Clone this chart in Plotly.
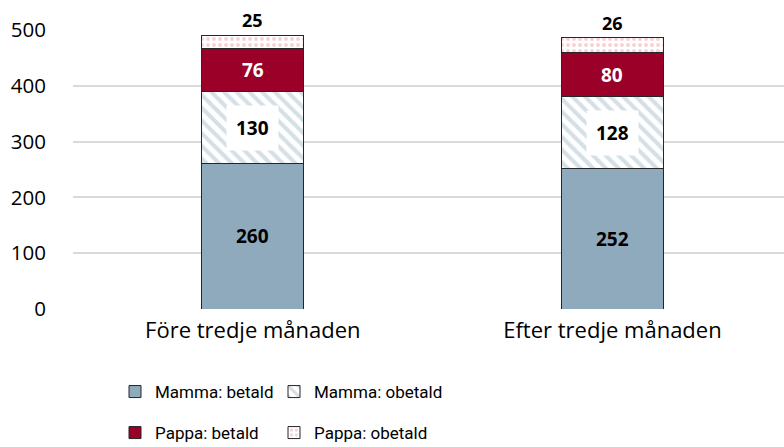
import plotly.graph_objects as go

categories = ["Före tredje månaden", "Efter tredje månaden"]
mamma_betald = [260, 252]
mamma_obetald = [130, 128]
pappa_betald = [76, 80]
pappa_obetald = [25, 26]
y_ticks = [0, 100, 200, 300, 400, 500]

FONT = "'Open Sans', 'Noto Sans', sans-serif"
LFONT = "Roboto, 'Open Sans', sans-serif"
series = [
    ("Mamma: betald", mamma_betald, dict(color="#8FAABC"), "black", False),
    ("Mamma: obetald", mamma_obetald,
     dict(color="white", pattern=dict(shape="\\", fgcolor="#A9BFCD", bgcolor="white", size=9, solidity=0.45)),
     "black", True),
    ("Pappa: betald", pappa_betald, dict(color="#9B0029"), "white", False),
    ("Pappa: obetald", pappa_obetald,
     dict(color="white", pattern=dict(shape=".", fgcolor="#EFA3AB", bgcolor="white", size=6, solidity=0.35)),
     "black", False),
]
legend_ids = ["legend", "legend2", "legend3", "legend4"]

xs = [0, 1]
fig = go.Figure()
annotations = []
base = [0, 0]
for i, (name, vals, marker, tcolor, boxed) in enumerate(series):
    m = dict(marker)
    m["line"] = dict(color="#262626", width=1)
    fig.add_trace(go.Bar(x=xs, y=vals, name=name, marker=m, width=0.284, legend=legend_ids[i],
                         showlegend=True))
    last = i == len(series) - 1
    for j, v in enumerate(vals):
        if last:
            annotations.append(dict(x=xs[j], y=base[j] + v, text=f"<b>{v}</b>", showarrow=False,
                                    yanchor="bottom", yshift=1,
                                    font=dict(family=FONT, size=18, color=tcolor)))
        else:
            a = dict(x=xs[j], y=base[j] + v / 2, text=f"<b>{v}</b>", showarrow=False,
                     font=dict(family=FONT, size=19, color=tcolor))
            if boxed:
                a.update(bgcolor="white", borderpad=9)
            annotations.append(a)
        base[j] += v

def px_x(p):
    return (p - 73) / 711.0

def px_y(p):
    return (309 - p) / 279.0

leg_pos = [(115, 392), (274, 392), (115, 433), (274, 433)]
legends = {}
for lid, (lx, ly) in zip(legend_ids, leg_pos):
    legends[lid] = dict(orientation="h", x=px_x(lx), y=px_y(ly), xanchor="left", yanchor="middle",
                        font=dict(family=LFONT, size=17), itemwidth=30, bgcolor="rgba(0,0,0,0)")

fig.update_layout(
    barmode="stack",
    showlegend=True,
    width=784, height=447,
    margin=dict(l=73, r=0, t=30, b=138, autoexpand=False),
    paper_bgcolor="white", plot_bgcolor="white",
    font=dict(family=FONT, size=19, color="black"),
    annotations=annotations,
    xaxis=dict(tickvals=xs, ticktext=categories, range=[-0.5, 1.477], showgrid=False,
               zeroline=False, showline=False, ticks="", ticklabelstandoff=6, automargin=False,
               tickfont=dict(size=22)),
    yaxis=dict(range=[0, 500], tickvals=y_ticks, showgrid=True, gridcolor="#D9D9D9", gridwidth=1.5,
               zeroline=False, showline=False, ticks="", ticklabelstandoff=26, automargin=False,
               tickfont=dict(size=20.5)),
    **legends,
)
fig.write_html("out.html", config={"displayModeBar": False},
               post_script="document.body.style.margin='0';document.body.style.overflow='hidden';")
